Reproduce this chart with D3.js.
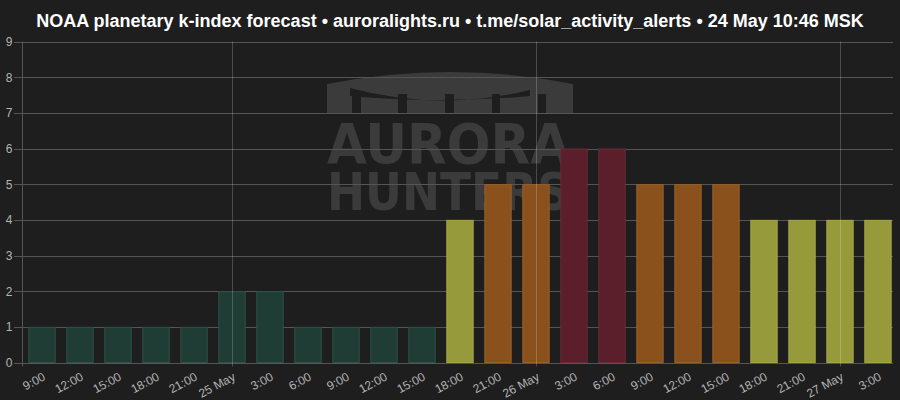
<!DOCTYPE html>
<html><head><meta charset="utf-8">
<script src="https://cdn.jsdelivr.net/npm/d3@7"></script>
<style>html,body{margin:0;padding:0;background:#1e1e1e}svg{display:block}</style>
</head><body><svg id="c" width="900" height="400"></svg>
<script>
const titleText = "NOAA planetary k-index forecast • auroralights.ru • t.me/solar_activity_alerts • 24 May 10:46 MSK";
const timeLabels = ["9:00","12:00","15:00","18:00","21:00","25 May","3:00","6:00","9:00","12:00","15:00","18:00","21:00","26 May","3:00","6:00","9:00","12:00","15:00","18:00","21:00","27 May","3:00"];
const kIndex = [1,1,1,1,1,2,2,1,1,1,1,4,5,5,6,6,5,5,5,4,4,4,4];
const yTickValues = [0,1,2,3,4,5,6,7,8,9];
const dayLabels = ["25 May","26 May","27 May"];
const watermarkLines = ["AURORA","HUNTERS"];
const fillColors = ["#1f3d35","#1f3d35","#1f3d35","#1f3d35","#979a3b","#8a511d","#5b1f2b"];
const edgeColors = ["#2c5246","#2c5246","#2c5246","#2c5246","#a3a648","#96602a","#6a2a36"];

(function () {
const W = 900, H = 400;
const pLeft = 22.5, pRight = 893, pTop = 41.5, pBottom = 362.5;
const svg = d3.select("#c");
const bg = "#1e1e1e";
const wmColor = "#3b3b3b";
svg.append("rect").attr("width", W).attr("height", H).attr("fill", bg);

const x = d3.scaleBand().domain(d3.range(kIndex.length)).range([23, 897]).paddingInner(0.28).paddingOuter(0.14);
const y = d3.scaleLinear().domain([0, 9]).range([pBottom, pTop]);

// watermark logo
svg.append("path").attr("fill", wmColor).attr("d", "M327,84 Q450,60 573,84 L573,116 L327,116 Z");
const cut = svg.append("g").attr("fill", bg);
cut.append("path").attr("d", "M350,88 Q440,112 530,90 L530,96 Q440,104 350,96 Z");
[[352,361],[398,407],[445,454],[492,500],[538,546]].forEach(([a,b]) => {
  cut.append("rect").attr("x", a).attr("y", 94).attr("width", b - a).attr("height", 24);
});
cut.append("rect").attr("x", 320).attr("y", 113).attr("width", 260).attr("height", 8);
const wt = svg.append("text").attr("fill", wmColor).attr("font-family", "DejaVu Sans").attr("font-weight", "bold");
wt.append("tspan").attr("x", 327).attr("y", 163).attr("font-size", 56)
  .attr("textLength", 243).attr("lengthAdjust", "spacingAndGlyphs").text(watermarkLines[0]);
wt.append("tspan").attr("x", 327).attr("y", 210).attr("font-size", 52)
  .attr("textLength", 243).attr("lengthAdjust", "spacingAndGlyphs").text(watermarkLines[1]);

// horizontal grid
const grid = svg.append("g").attr("stroke", "#555").attr("stroke-width", 1);
grid.selectAll("line").data(yTickValues).join("line")
  .attr("x1", 14).attr("x2", pRight)
  .attr("y1", d => Math.round(y(d)) + 0.5).attr("y2", d => Math.round(y(d)) + 0.5);
svg.append("line").attr("x1", pLeft).attr("x2", pLeft).attr("y1", pTop).attr("y2", pBottom + 4).attr("stroke", "#555");

// y labels
const yAxis = d3.axisLeft(y).tickValues(yTickValues).tickSize(0).tickPadding(0);
const ya = svg.append("g").attr("transform", "translate(12.5,0)").call(yAxis);
ya.select(".domain").remove();
ya.selectAll("text").attr("fill", "#b4b4b4").attr("font-family", "Liberation Sans, Arial, sans-serif").attr("font-size", 12);

// bars
svg.append("g").selectAll("rect").data(kIndex).join("rect")
  .attr("x", (d, i) => x(i) + 0.5).attr("width", x.bandwidth() - 1)
  .attr("y", d => y(d) + 0.5).attr("height", d => y(0) - y(d) - 0.5)
  .attr("fill", d => fillColors[d]).attr("stroke", d => edgeColors[d]).attr("stroke-width", 1);

// day lines (above bars)
const dayIdx = dayLabels.map(l => timeLabels.indexOf(l));
svg.append("g").selectAll("line").data(dayIdx).join("line")
  .attr("x1", i => Math.round(x(i) + x.bandwidth() / 2) + 0.5).attr("x2", i => Math.round(x(i) + x.bandwidth() / 2) + 0.5)
  .attr("y1", pTop).attr("y2", pBottom + 4).attr("stroke", "rgba(255,255,255,0.2)");

// x labels
const xAxis = d3.axisBottom(x).tickFormat(i => timeLabels[i]).tickSize(0).tickPadding(0);
const xa = svg.append("g").attr("transform", `translate(0,${pBottom})`).call(xAxis);
xa.select(".domain").remove();
xa.selectAll("text")
  .attr("fill", "#b4b4b4").attr("font-family", "Liberation Sans, Arial, sans-serif").attr("font-size", 12)
  .attr("text-anchor", "end").attr("dy", "0.75em")
  .attr("transform", "translate(0,9) rotate(-28)");

// title
svg.append("text").attr("x", 450).attr("y", 27).attr("text-anchor", "middle")
  .attr("fill", "#ffffff").attr("font-family", "Liberation Sans, Arial, sans-serif").attr("font-weight", "bold")
  .attr("font-size", 18).text(titleText);
})();
</script></body></html>
